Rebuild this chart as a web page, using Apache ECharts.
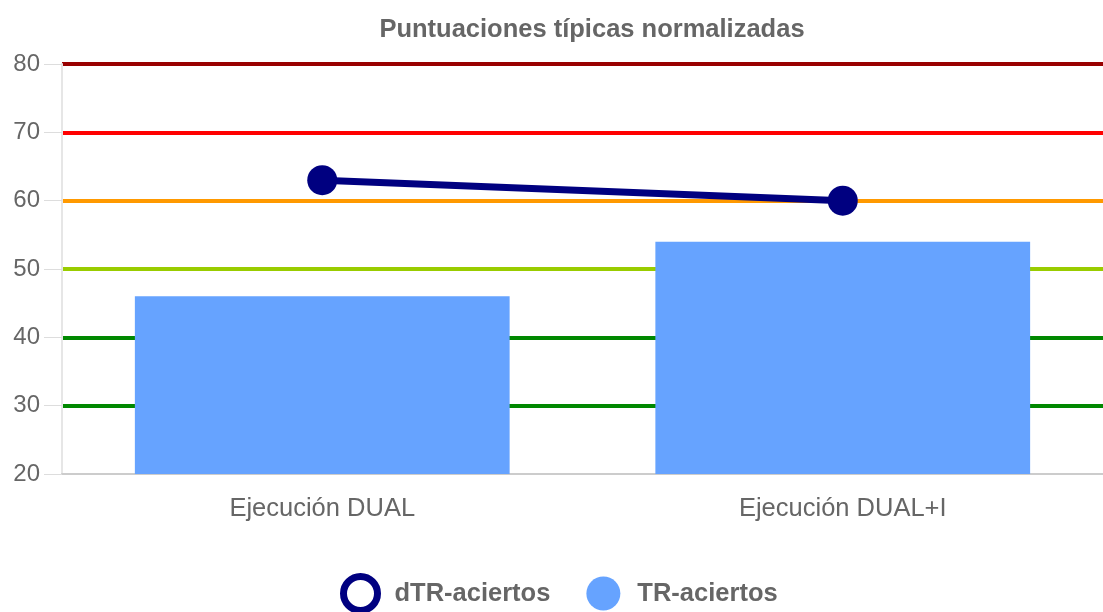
<!DOCTYPE html>
<html>
<head>
<meta charset="utf-8">
<script src="https://cdn.jsdelivr.net/npm/echarts@6/dist/echarts.min.js"></script>
<style>
  html, body { margin: 0; padding: 0; background: #fff; }
  #chart { width: 1103px; height: 612px; }
</style>
</head>
<body>
<div id="chart"></div>
<script>
// datos
const categorias = ['Ejecución DUAL', 'Ejecución DUAL+I'];
const dTR = [63, 60];
const TR = [46, 54];
// colores de las bandas, desde 20 hasta 80
const coloresBandas = ['rgba(0,0,0,0)', '#008800', '#008800', '#99cc00', '#ff9900', '#ff0000', '#990000'];

const fuente = 'Liberation Sans, Arial, sans-serif';
const chart = echarts.init(document.getElementById('chart'));

chart.setOption({
  animation: false,
  title: {
    text: 'Puntuaciones típicas normalizadas',
    left: 587,
    textAlign: 'center',
    top: 12,
    textStyle: { fontFamily: fuente, fontSize: 25.5, fontWeight: 'bold', color: '#666' }
  },
  legend: {
    left: 335,
    top: 568,
    itemWidth: 34,
    itemHeight: 34,
    itemGap: 36,
    textStyle: { fontFamily: fuente, fontSize: 25.5, fontWeight: 'bold', color: '#666', padding: [0, 0, 0, 12] },
    data: [
      { name: 'dTR-aciertos', icon: 'circle', itemStyle: { color: '#fff', borderColor: '#000080', borderWidth: 7 } },
      { name: 'TR-aciertos', icon: 'circle', itemStyle: { color: '#66a3ff' } }
    ]
  },
  grid: { left: 62, right: -7, top: 64, bottom: 138, containLabel: false },
  xAxis: {
    type: 'category',
    data: categorias,
    axisLine: { lineStyle: { color: '#ccc', width: 2 } },
    axisTick: { show: false },
    axisLabel: { fontFamily: fuente, fontSize: 25.5, color: '#666', margin: 22 }
  },
  yAxis: {
    type: 'value',
    min: 20,
    max: 80,
    interval: 10,
    axisLine: { show: true, lineStyle: { color: '#e6e6e6', width: 2 } },
    axisTick: { show: true, length: 18, lineStyle: { color: '#ddd' } },
    axisLabel: { fontFamily: fuente, fontSize: 24, color: '#666', margin: 22 },
    splitLine: { show: true, lineStyle: { color: coloresBandas, width: 4 } }
  },
  series: [
    {
      name: 'TR-aciertos',
      type: 'bar',
      data: TR,
      barWidth: '72%',
      itemStyle: { color: '#66a3ff' },
      z: 2
    },
    {
      name: 'dTR-aciertos',
      type: 'line',
      data: dTR,
      symbol: 'circle',
      symbolSize: 30,
      itemStyle: { color: '#000080' },
      lineStyle: { color: '#000080', width: 7 },
      z: 3
    }
  ]
});
</script>
</body>
</html>
